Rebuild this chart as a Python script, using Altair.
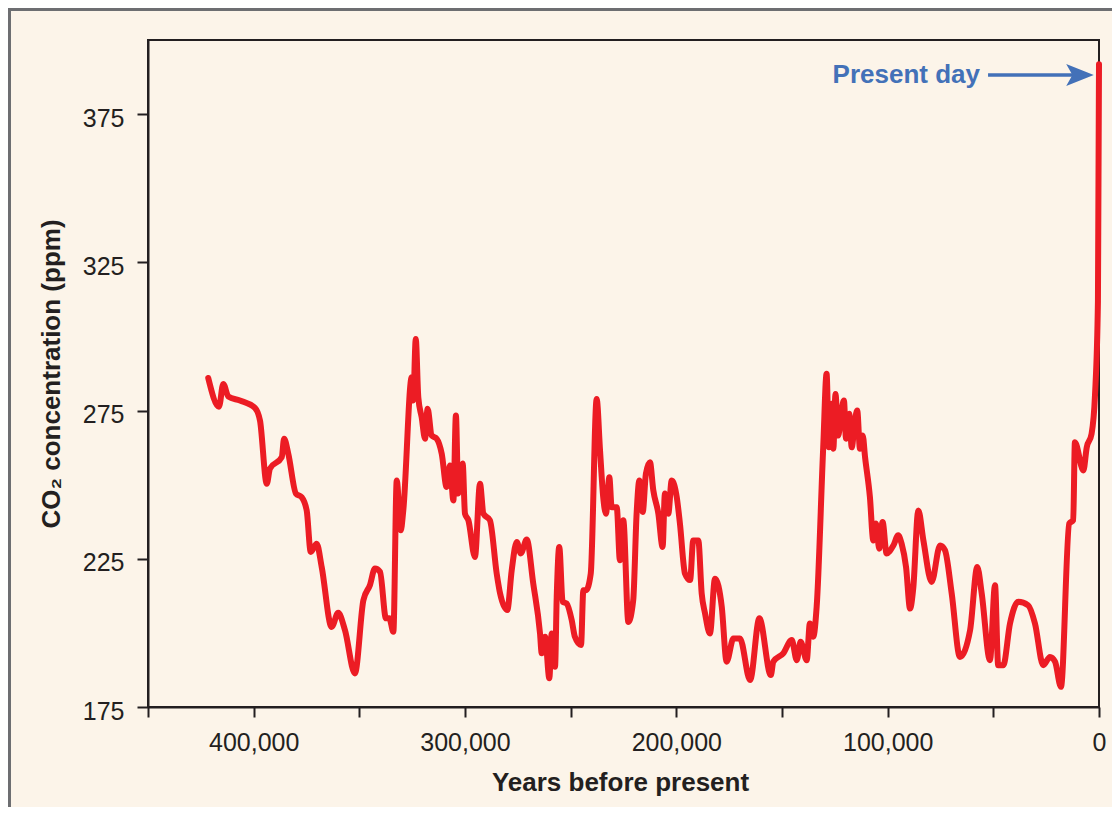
import altair as alt
import pandas as pd

# Years before present (x) and CO2 concentration in ppm (y)
years = [421500, 416400, 414400, 412000, 406500, 399400, 397000, 393800, 392300, 386700,
         385600, 383600, 380000, 377300, 374900, 373000, 370200, 367800, 363100, 360000,
         356800, 352100, 348100, 345000, 342600, 340200, 337400, 335800, 333900, 332300,
         330400, 329200, 325200, 324500, 323300, 322100, 320500, 318900, 317700, 315800,
         313400, 311000, 308700, 307100, 305500, 304300, 303200, 301100, 300000, 298400,
         295300, 292900, 291300, 288200, 285000, 283400, 280000, 277900, 275500, 273600,
         270800, 267700, 264500, 263700, 262100, 260100, 259000, 257400, 256600, 255400,
         253800, 251900, 249500, 248000, 245100, 244000, 242700, 240500, 237700, 236100,
         234600, 233300, 231700, 230600, 228200, 226700, 225100, 222700, 220400, 218800,
         217500, 215900, 214400, 212500, 210900, 208500, 206500, 205400, 203800, 202200,
         199800, 198300, 195900, 193500, 192000, 189600, 188000, 186400, 184100, 181700,
         178500, 176200, 173000, 169900, 165100, 160700, 155300, 154100, 149400, 145400,
         143000, 141200, 138300, 136800, 135200, 133600, 130500, 128900, 127800, 126500,
         125700, 124700, 123400, 121800, 120700, 119700, 118200, 117000, 115500, 114400,
         113100, 111800, 110700, 108400, 106800, 105500, 104000, 102400, 100500, 97300,
         95000, 93400, 91300, 89400, 87900, 85500, 83100, 79200, 75200, 72900,
         69700, 65800, 61000, 57600, 55500, 51600, 49200, 47700, 45300, 42100,
         38200, 33500, 30300, 26400, 23200, 20800, 18000, 14100, 12200, 11400,
         7400, 5800, 3500, 1900, 500, 0]
co2 = [286.0, 276.3, 284.0, 279.7, 278.4, 275.9, 271.6, 250.3, 255.4, 259.3,
       265.5, 260.4, 247.0, 245.8, 241.3, 227.3, 230.1, 222.2, 202.0, 206.8,
       200.9, 186.3, 211.0, 216.1, 221.7, 220.6, 204.9, 204.9, 200.4, 251.4,
       234.6, 241.3, 286.2, 278.4, 299.1, 279.5, 272.7, 265.5, 275.6, 266.6,
       265.5, 260.4, 249.2, 256.5, 244.7, 273.3, 247.0, 257.1, 240.2, 238.0,
       225.6, 250.3, 240.2, 238.0, 220.0, 213.3, 207.7, 221.1, 230.7, 226.8,
       231.5, 216.6, 199.8, 193.1, 198.7, 184.7, 199.8, 188.6, 212.1, 229.0,
       210.5, 209.9, 204.3, 198.7, 195.9, 214.4, 214.4, 220.0, 278.9, 261.5,
       245.8, 240.2, 252.5, 242.4, 242.4, 224.5, 238.0, 203.7, 211.0, 240.2,
       251.4, 240.8, 253.7, 257.6, 248.1, 240.2, 229.0, 247.0, 240.2, 251.4,
       245.8, 236.9, 220.0, 217.8, 231.2, 231.2, 213.3, 206.5, 199.8, 218.3,
       208.8, 190.3, 198.1, 198.1, 184.1, 204.9, 185.8, 190.3, 193.1, 197.6,
       190.8, 197.0, 190.8, 203.2, 198.7, 208.8, 262.6, 287.4, 262.6, 277.3,
       262.1, 280.6, 266.6, 275.0, 278.4, 265.5, 273.9, 262.6, 271.6, 275.0,
       262.1, 266.6, 259.3, 245.8, 231.2, 236.9, 228.4, 237.4, 226.8, 229.5,
       232.9, 230.1, 222.2, 208.2, 215.0, 241.3, 231.2, 217.2, 229.5, 227.9,
       213.3, 191.9, 200.9, 222.2, 213.3, 190.8, 216.1, 189.1, 189.1, 203.2,
       210.5, 209.3, 203.2, 189.1, 191.9, 190.3, 181.8, 236.9, 238.0, 264.3,
       254.8, 262.6, 267.2, 280.1, 312.0, 391.8]

y_ticks = [175, 225, 275, 325, 375]
x_ticks = [0, 50000, 100000, 150000, 200000, 250000, 300000, 350000, 400000, 450000]

# "Present day" annotation
note_text = ["Present day"]
note_year = [56300]
note_ppm = [385.6]
arrow_start = [52500]
arrow_end = [11000]
arrow_head_year = [9000]
arrow_ppm = [388.2]

INK = "#231f20"
RED = "#ec1c24"
BLUE = "#4371b8"
BG = "#fcf4e9"
FONT = "Liberation Sans"

df = pd.DataFrame({"years": years, "co2": co2})

xscale = alt.Scale(domain=[450000, 0], nice=False, zero=False)
yscale = alt.Scale(domain=[175, 400], nice=False, zero=False)

line = alt.Chart(df).mark_line(
    color=RED, strokeWidth=6, strokeJoin="round", strokeCap="round", interpolate="monotone"
).encode(
    x=alt.X("years:Q", scale=xscale,
            axis=alt.Axis(values=x_ticks, tickSize=10, labelPadding=13,
                          labelFlush=False, labelOverlap=False,
                          labelExpr="datum.value % 100000 === 0 ? format(datum.value, ',') : ''",
                          title="Years before present", titleX=472, titleY=83,
                          titleBaseline="alphabetic", titleAlign="center")),
    y=alt.Y("co2:Q", scale=yscale,
            axis=alt.Axis(values=y_ticks, tickSize=11, labelPadding=13, labelOffset=4,
                          title="CO₂ concentration (ppm)", titleX=-89, titleY=333.5,
                          titleAngle=-90, titleAlign="center", titleBaseline="alphabetic")),
)

note_df = pd.DataFrame({"text": note_text, "years": note_year, "co2": note_ppm})
arrow_df = pd.DataFrame({"x1": arrow_start, "x2": arrow_end, "co2": arrow_ppm})
head_df = pd.DataFrame({"years": arrow_head_year, "co2": arrow_ppm})

note = alt.Chart(note_df).mark_text(
    font=FONT, fontSize=26, fontWeight="bold", color=BLUE, align="right", baseline="alphabetic"
).encode(x=alt.X("years:Q", scale=xscale), y=alt.Y("co2:Q", scale=yscale), text="text:N")

arrow = alt.Chart(arrow_df).mark_rule(color=BLUE, strokeWidth=3.5).encode(
    x=alt.X("x1:Q", scale=xscale), x2="x2:Q", y=alt.Y("co2:Q", scale=yscale)
)

head = alt.Chart(head_df).mark_point(
    shape="M-1,-0.8L1,0L-1,0.8L-0.55,0Z", filled=True, color=BLUE, opacity=1, size=760
).encode(x=alt.X("years:Q", scale=xscale), y=alt.Y("co2:Q", scale=yscale))

frame_data = alt.Data(values=[{"a": 1}])
frame_left = alt.Chart(frame_data).mark_rule(color="#6d6e71", strokeWidth=3).encode(
    x=alt.value(-138.5), y=alt.value(-40), y2=alt.value(900)
)
frame_top = alt.Chart(frame_data).mark_rule(color="#6d6e71", strokeWidth=3).encode(
    x=alt.value(-140), x2=alt.value(1200), y=alt.value(-30.5)
)

chart = alt.layer(frame_left, frame_top, line, arrow, head, note).properties(
    width=951, height=667,
    padding={"left": 140, "top": 32, "right": 13, "bottom": 100},
    autosize=alt.AutoSizeParams(type="none"),
    background=BG,
).configure_view(
    stroke=INK, strokeWidth=2
).configure_axis(
    grid=False, domainColor=INK, domainWidth=2, tickColor=INK, tickWidth=2,
    labelFont=FONT, labelFontSize=25, labelColor=INK,
    titleFont=FONT, titleFontSize=26, titleFontWeight="bold", titleColor=INK,
)

chart.save("out.html", embed_options={"renderer": "svg", "actions": False})
